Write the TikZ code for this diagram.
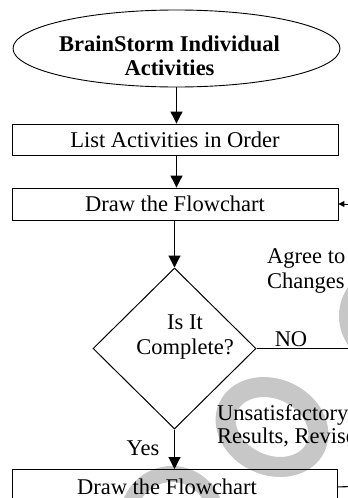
\documentclass[tikz,border=0pt]{standalone}
\usepackage{fontspec}
\setmainfont{Liberation Serif}
\usetikzlibrary{shapes.geometric,arrows.meta}
\begin{document}
\begin{tikzpicture}[x=1pt,y=-1pt,
  every node/.style={font=\fontsize{22.5}{25}\selectfont, inner sep=0pt},
  box/.style={draw, line width=0.9pt, minimum width=326pt, minimum height=31pt},
  flow/.style={line width=1.1pt, -{Triangle[length=12pt,width=12pt]}},
  link/.style={line width=1.1pt},
  ring/.style={draw=black!22, line width=#1},
  note/.style={align=left, anchor=north west}]
\useasboundingbox (0,0) rectangle (348,498);
\clip (0,0) rectangle (348,498);

% faint rings in the background
\draw[ring=20pt, rotate around={-25:(272,427)}] (272,427) ellipse [x radius=48, y radius=38];
\draw[ring=16pt] (172,518) circle [radius=44];
\draw[ring=14pt] (390,316) circle [radius=44];

% flowchart nodes
\node[ellipse, draw, line width=0.9pt, minimum width=327pt, minimum height=77pt,
      label={[xshift=-7pt, yshift=-7pt, align=center,
              font=\bfseries\fontsize{22.5}{24}\selectfont]center:BrainStorm Individual\\Activities}]
      (start) at (176.5,48.5) {};
\node[box] (list) at (175,139.5) {List Activities in Order};
\node[box, minimum height=32pt] (sketch) at (175,204) {Draw the Flowchart};
\node[diamond, draw, line width=1pt, minimum width=163pt, minimum height=161pt,
      label={[xshift=10.5pt, yshift=11pt, align=center]center:Is It\\Complete?}]
      (check) at (174.5,348.5) {};
\node[box, minimum width=325pt, minimum height=35pt, anchor=north,
      label={[xshift=-7.5pt]center:Draw the Flowchart}]
      (final) at (174.5,469) {};

% side notes
\node[note] (agree) at (267,248) {Agree to\\Changes};
\node[note, font=\fontsize{22.5}{23.5}\selectfont] (unsat) at (217,404) {Unsatisfactory\\Results, Revise};
\node[anchor=base] (nolabel) at (291,346) {NO};
\node[anchor=base] (yeslabel) at (143,455) {Yes};

% loose ends running off to the right
\coordinate (noEnd) at (352,348.5);
\coordinate (agreeEnd) at (352,204);
\coordinate (reviseEnd) at (352,486.5);

% connectors
\draw[flow] (start.south) -- (start.south |- list.north);
\draw[flow] (start.south |- list.south) -- (start.south |- sketch.north);
\draw[flow] (check.north |- sketch.south) -- (check.north);
\draw[flow] (check.south) -- (check.south |- final.north);
\draw[link] (check.east) -- (noEnd);
\draw[line width=1pt, -{Triangle[length=6pt,width=6pt]}] (agreeEnd) -- (sketch.east);
\draw[link] (final.east) -- (reviseEnd);
\end{tikzpicture}
\end{document}
